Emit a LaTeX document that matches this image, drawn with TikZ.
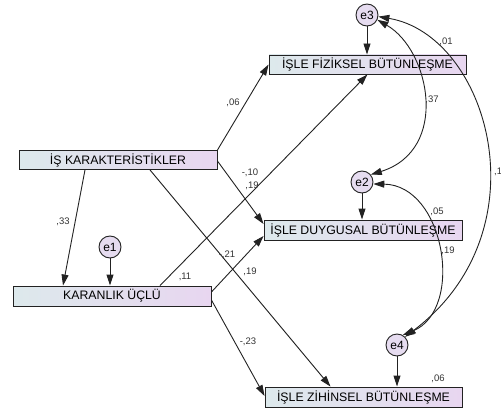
\documentclass[tikz,border=0pt]{standalone}
\usepackage{fontspec}
\setmainfont{Liberation Sans}
\usetikzlibrary{arrows.meta}
\definecolor{boxl}{HTML}{DDE9EC}
\definecolor{boxr}{HTML}{E8D6F0}
\definecolor{errc}{HTML}{E6DCF0}
\definecolor{lin}{HTML}{222222}
\begin{document}
\begin{tikzpicture}[x=1pt,y=-1pt,
  obs/.style={draw=lin, line width=0.9pt, left color=boxl, right color=boxr, minimum height=19pt, inner sep=0pt, font=\fontsize{12.3}{14}\selectfont},
  err/.style={circle, draw=lin, line width=0.9pt, fill=errc, minimum size=22pt, inner sep=0pt, font=\fontsize{12}{14}\selectfont},
  path/.style={draw=lin, line width=0.9pt, -{Triangle[length=11pt,width=7pt]}},
  cov/.style={draw=lin, line width=0.9pt, {Triangle[length=11pt,width=7pt]}-{Triangle[length=11pt,width=7pt]}},
  lab/.style={font=\fontsize{9.5}{11}\selectfont, text=black!80, inner sep=0pt}]
\useasboundingbox (0,0) rectangle (501,412);
\node[obs, minimum width=198pt] (is) at (118,160) {İŞ KARAKTERİSTİKLER};
\node[obs, minimum width=198pt, minimum height=20pt] (kar) at (112,296) {KARANLIK ÜÇLÜ};
\node[obs, minimum width=197pt] (fiz) at (367.5,64.5) {İŞLE FİZİKSEL BÜTÜNLEŞME};
\node[obs, minimum width=198pt, minimum height=20pt] (duy) at (363,230) {İŞLE DUYGUSAL BÜTÜNLEŞME};
\node[obs, minimum width=197pt, minimum height=20pt] (zih) at (363.5,397) {İŞLE ZİHİNSEL BÜTÜNLEŞME};
\node[err] (e3) at (367,15) {e3};
\node[err] (e2) at (362,182) {e2};
\node[err] (e4) at (397,345) {e4};
\node[err] (e1) at (110,247) {e1};
% structural paths
\draw[path] (is.north east) -- (fiz.west);
\draw[path] ([yshift=-1pt]is.east) -- ([yshift=6pt]duy.west);
\draw[path] ([xshift=32pt]is.south) -- ([xshift=-33pt]zih.north);
\draw[path] ([xshift=-33pt]is.south) -- ([xshift=-49pt]kar.north);
\draw[path] (e1) -- (e1 |- kar.north);
\draw[path] ([xshift=48pt]kar.north) -- (fiz.south);
\draw[path] ([yshift=4pt]kar.east) -- ([yshift=-6pt]duy.west);
\draw[path] ([yshift=-4pt]kar.east) -- ([yshift=1pt]zih.west);
\draw[path] (e3) -- (e3 |- fiz.north);
\draw[path] (e2) -- (e2 |- duy.north);
\draw[path] (e4) -- (e4 |- zih.north);
% covariances
\draw[cov] (e3.-25) .. controls (430,50) and (450,150) .. (e2.40);
\draw[cov] (e3.-8) .. controls (488,35) and (546,230) .. (e4.45);
\draw[cov] (e2.-10) .. controls (445,185) and (465,310) .. (e4.60);
% labels
\node[lab] (l1) at (233,103) {,06};
\node[lab] (l2) at (63,222) {,33};
\node[lab] (l3) at (185,277) {,11};
\node[lab] (l4) at (250,173) {-,10};
\node[lab] (l5) at (252,186) {,19};
\node[lab] (l6) at (227,255) {-,21};
\node[lab] (l7) at (250,272) {,19};
\node[lab] (l8) at (248,342) {-,23};
\node[lab] (l9) at (432,100) {,37};
\node[lab] (l10) at (446,42) {,01};
\node[lab] (l11) at (437,212) {,05};
\node[lab] (l12) at (448,251) {,19};
\node[lab, anchor=west] (l13) at (494,172) {,1};
\node[lab] (l14) at (438,379) {,06};
\end{tikzpicture}
\end{document}
